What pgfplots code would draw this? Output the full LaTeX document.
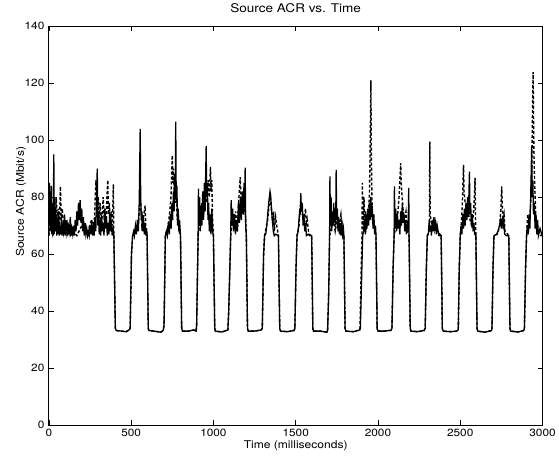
\documentclass[border=0pt]{standalone}
\usepackage{fontspec}
\setmainfont{TeX Gyre Heros}[FakeStretch=1.13]
\usepackage{pgfplots}
\pgfplotsset{compat=1.18}
\begin{document}
\begin{tikzpicture}
\begin{axis}[name=ax,
  width=495pt, height=400pt, scale only axis,
  xmin=0, xmax=3000, ymin=0, ymax=140,
  xtick={0,500,...,3000}, ytick={0,20,...,140},
  tick align=inside, major tick length=5pt,
  tick style={black, line width=0.7pt},
  axis line style={line width=1.1pt},
  scaled x ticks=false,
  /pgf/number format/assume math mode=true,
  /pgf/number format/1000 sep={},
  tick label style={font=\fontsize{10.5}{12}\selectfont},
  yticklabel style={xshift=-1pt},
  title={Source ACR vs. Time},
  title style={font=\fontsize{12}{14}\selectfont, at={(0.5,1)}, anchor=base, yshift=8pt},
  xlabel={Time (milliseconds)},
  xlabel style={font=\fontsize{10.7}{12}\selectfont, at={(axis description cs:0.5,0)}, anchor=base, yshift=-23pt},
  ylabel={Source ACR (Mbit/s)},
  ylabel style={font=\fontsize{10.7}{12}\selectfont, at={(axis description cs:-0.0505,0.56)}, anchor=base},
]
% dashed series
\addplot[black, line width=1.4pt, dash pattern=on 3pt off 2pt] coordinates {
(0,66.5)(10,72)(20,68)(30,78)(38,70)(45,80)(50,72)(58,76)(64,70)(70,83.8)(75,72)(82,76)(90,68)(100,72)(110,67)(120,70)(130,66.5)(150,68)(170,66.5)(200,70)(230,67)(260,72)(275,70)(282,80)(286,86)(290,82)(295,76)(300,80)(305,72)(312,78)(318,70)(325,74)(330,80)(336,72)(342,76)(348,70)(353,80)(358,86)(362,74)(368,78)(374,70)(380,75)(386,70)(390,80)(392,84.6)(394,70)(395,66.5)
(404,34)(410,33.2)(440,33)(470,32.8)(490,33.5)(494,34)(502,60)(509,66.5)
(530,68)(545,72)(555,80)(565,70)(575,73)(585,77)(590,68)(597,66.5)
(604,34)(608,33.2)(640,33)(680,32.6)(695,33.3)(700,35)(708,66.5)
(725,70)(735,75)(742,80)(746,88)(750,94.7)(754,85)(758,90)(762,80)(766,88)(770,78)(775,82)(780,72)(785,75)(792,68)(800,66.5)
(807,34)(812,33)(850,33)(880,33.4)(895,33)(898,35)(907,66.5)
(920,72)(930,78)(940,74)(950,82)(960,78)(968,86)(975,80)(982,90.7)(986,82)(990,86)(995,72)(1000,66.5)
(1008,34)(1012,33)(1050,32.7)(1080,33.2)(1088,33.5)(1093,40)(1105,66.5)
(1115,72)(1125,70)(1135,75)(1145,68)(1155,80)(1163,87)(1170,76)(1178,82)(1185,74)(1192,78)(1200,66.5)
(1207,34)(1212,33)(1250,33)(1290,33.4)(1297,34)(1305,60)(1311,66.5)
(1330,72)(1344,81)(1355,74)(1362,70)(1366,75)(1370,68)(1378,73)(1385,70)(1395,66.5)
(1403,34)(1408,33)(1450,32.8)(1490,33.2)(1495,34)(1502,55)(1508,66.5)
(1520,70)(1530,78)(1540,74)(1550,72)(1560,76)(1565,70)(1570,72)(1580,67)(1597,66.5)
(1604,34)(1608,33)(1650,33)(1690,32.6)(1694,33.5)(1700,45)(1706,66.5)
(1720,70)(1730,72)(1740,68)(1755,73)(1765,70)(1775,74)(1785,68)(1793,66.5)
(1800,34)(1805,33)(1850,32.8)(1888,33.4)(1891,34)(1898,55)(1903,66.5)
(1905,85)(1910,70)(1915,80)(1920,68)(1925,75)(1930,70)(1940,74)(1948,80)(1952,95)(1955,110)(1957,121)(1959,100)(1962,85)(1966,72)(1975,70)(1988,66.5)
(1995,34)(2000,33)(2040,33)(2080,33.3)(2085,34)(2092,55)(2098,66.5)
(2110,70)(2120,74)(2128,80)(2133,86)(2138,91.9)(2142,84)(2147,80)(2152,76)(2160,72)(2170,75)(2180,68)(2189,66.5)
(2196,34)(2200,33)(2240,32.8)(2280,33.2)(2287,34)(2294,55)(2300,66.5)
(2310,68)(2313,72)(2315,99.5)(2317,74)(2322,72)(2330,70)(2340,72)(2350,70)(2360,68)(2384,66.5)
(2391,34)(2396,33)(2440,32.8)(2480,33)(2488,33.5)(2494,55)(2500,66.5)
(2508,72)(2514,80)(2518,88)(2520,91.3)(2523,82)(2530,78)(2540,76)(2550,74)(2560,72)(2570,70)(2580,74)(2586,80)(2590,86.8)(2593,72)(2595,66.5)
(2602,34)(2606,33)(2650,32.6)(2690,33.2)(2693,34)(2699,55)(2705,66.5)
(2725,67)(2740,70)(2747,76)(2752,83.8)(2756,76)(2760,72)(2766,74)(2772,68)(2795,66.5)
(2802,34)(2806,33)(2850,32.7)(2885,33.2)(2890,34)(2897,55)(2903,66.5)
(2910,74)(2915,68)(2922,72)(2930,80)(2935,90)(2938,105)(2941,118)(2943,123.9)(2945,110)(2948,95)(2952,85)(2958,75)(2965,70)(2975,68)(2990,66.5)(3000,66.5)
};
% solid series
\addplot[black, line width=1.3pt] coordinates {
(0,66.5)(3,85)(6,70)(9,82)(12,68)(15,84)(18,67)(22,78)(26,66.5)(30,95)(33,67)(37,80)(40,68)(44,74)(48,66.5)(52,72)(56,67)(60,75)(64,66.5)(68,70)(72,67)(76,73)(80,66.5)(85,71)(90,67)(95,74)(100,66.5)(105,69)(110,72)(115,66.5)(120,70)(125,67)(130,73)(135,66.5)(140,69)(145,67)(150,70)(155,66.5)(160,72)(165,68)(170,75)(175,70)(180,78)(185,72)(190,79)(195,71)(200,76)(205,68)(210,73)(215,66.5)(220,71)(225,67)(230,69)(235,66.5)(240,68)(245,66.5)(250,70)(255,67)(260,72)(265,66.5)(270,69)(275,66.5)(280,73)(285,68)(290,80)(294,90)(298,70)(302,75)(306,67)(310,72)(315,66.5)(320,74)(325,68)(330,71)(335,66.5)(340,76)(345,69)(350,73)(355,66.5)(360,71)(365,67)(370,75)(375,68)(380,70)(385,66.5)(390,69)(395,66.5)
(404,34)(410,33.2)(440,33)(470,32.8)(490,33.5)(494,34)(502,60)(509,66.5)
(515,68)(520,66.5)(526,70)(532,67)(538,72)(544,68)(549,78)(552,90)(555,104)(558,80)(562,72)(566,75)(570,68)(575,73)(580,67)(585,71)(590,66.5)(594,69)(597,66.5)
(604,34)(608,33.2)(640,33)(680,32.6)(695,33.3)(700,35)(708,66.5)
(714,68)(720,66.5)(726,71)(732,67)(738,74)(743,69)(748,78)(752,72)(757,82)(761,75)(765,88)(768,80)(771,106.5)(774,78)(778,84)(782,70)(786,76)(790,68)(794,72)(800,66.5)
(807,34)(812,33)(850,33)(880,33.4)(895,33)(898,35)(907,66.5)
(909,83)(912,70)(916,80)(920,68)(925,77)(930,70)(935,82)(940,72)(945,85)(950,75)(953,88)(956,98)(959,80)(963,85)(967,72)(971,78)(975,68)(980,74)(985,67)(990,76)(995,68)(1000,66.5)
(1008,34)(1012,33)(1050,32.7)(1080,33.2)(1088,33.5)(1093,40)(1105,66.5)
(1108,79)(1112,70)(1117,76)(1122,68)(1128,74)(1134,67)(1140,72)(1146,68)(1152,78)(1158,71)(1164,80)(1170,72)(1176,82)(1181,74)(1186,85)(1190,76)(1193,90.4)(1196,70)(1200,66.5)
(1207,34)(1212,33)(1250,33)(1290,33.4)(1297,34)(1305,60)(1311,66.5)
(1318,67)(1324,70)(1330,74)(1336,78)(1340,80)(1344,82)(1348,80.5)(1352,77)(1358,72)(1364,68)(1370,66.5)(1380,67)(1395,66.5)
(1403,34)(1408,33)(1450,32.8)(1490,33.2)(1495,34)(1502,55)(1508,66.5)
(1515,68)(1520,72)(1525,76)(1528,74)(1531,81.4)(1535,75)(1540,78)(1545,70)(1550,74)(1555,68)(1560,71)(1565,66.5)(1575,67)(1585,66.5)(1597,66.5)
(1604,34)(1608,33)(1650,33)(1690,32.6)(1694,33.5)(1700,45)(1706,66.5)
(1708,87.3)(1711,70)(1715,80)(1719,68)(1723,75)(1727,70)(1731,78)(1735,71)(1740,76)(1743,70)(1746,89.6)(1749,72)(1753,76)(1757,68)(1761,73)(1766,67)(1771,71)(1776,66.5)(1780,72)(1785,67)(1790,69)(1793,66.5)
(1800,34)(1805,33)(1850,32.8)(1890,33.4)(1893,34)(1900,50)(1907,66.5)
(1912,68)(1918,72)(1923,67)(1928,74)(1933,69)(1938,76)(1943,70)(1948,78)(1952,72)(1957,80)(1961,73)(1965,77)(1970,69)(1975,74)(1980,67)(1985,70)(1988,66.5)
(1995,34)(2000,33)(2040,33)(2080,33.3)(2085,34)(2092,55)(2098,66.5)
(2100,83.8)(2103,70)(2108,76)(2113,68)(2118,74)(2123,69)(2128,72)(2133,67)(2138,75)(2143,70)(2148,78)(2153,71)(2158,74)(2163,68)(2168,72)(2173,67)(2178,70)(2183,68)(2187,83.3)(2189,66.5)
(2196,34)(2200,33)(2240,32.8)(2280,33.2)(2287,34)(2294,55)(2300,66.5)
(2306,67)(2312,72)(2316,68)(2320,70)(2325,66.5)(2330,72)(2335,68)(2340,73)(2345,69)(2350,71)(2355,67)(2360,70)(2370,66.5)(2384,66.5)
(2391,34)(2396,33)(2440,32.8)(2480,33)(2488,33.5)(2494,55)(2500,66.5)
(2505,70)(2510,67)(2515,74)(2520,69)(2525,76)(2530,70)(2535,78)(2540,72)(2545,80)(2550,73)(2553,82)(2556,89)(2559,74)(2563,78)(2568,70)(2573,74)(2578,68)(2583,71)(2588,67)(2595,66.5)
(2602,34)(2606,33)(2650,32.6)(2690,33.2)(2693,34)(2699,55)(2705,66.5)
(2720,67)(2730,68)(2738,70)(2745,72)(2750,69)(2755,72.5)(2760,70)(2765,72)(2770,67)(2780,66.5)(2795,66.5)
(2802,34)(2806,33)(2850,32.7)(2885,33.2)(2890,34)(2897,55)(2903,66.5)
(2908,70)(2913,67)(2918,74)(2923,69)(2928,80)(2931,88)(2934,98)(2937,80)(2941,86)(2945,74)(2950,78)(2955,69)(2960,74)(2965,67)(2970,72)(2975,66.5)(2985,69)(2995,67)(3000,66.5)
};
\end{axis}
\path ([shift={(-49pt,-33pt)}]ax.south west) rectangle ([shift={(15pt,26pt)}]ax.north east);
\end{tikzpicture}
\end{document}
